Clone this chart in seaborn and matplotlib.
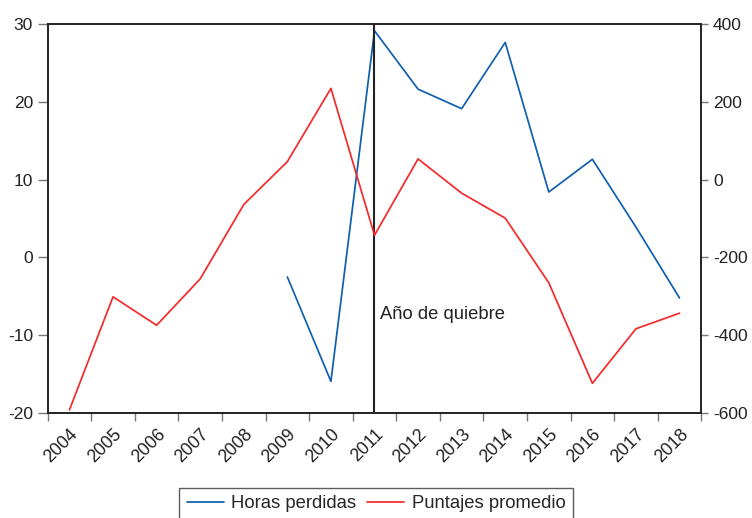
import matplotlib
matplotlib.use("Agg")
import matplotlib.pyplot as plt
from matplotlib.lines import Line2D
import numpy as np
import pandas as pd
import seaborn as sns

years = [2004, 2005, 2006, 2007, 2008, 2009, 2010, 2011, 2012, 2013, 2014, 2015, 2016, 2017, 2018]
horas_perdidas = [np.nan, np.nan, np.nan, np.nan, np.nan, -2.5, -15.9, 29.1, 21.6, 19.1, 27.6, 8.4, 12.6, 3.9, -5.2]
puntajes_promedio = [-591, -301, -374, -255, -64, 46, 234, -143, 53, -35, -99, -265, -523, -383, -343]
break_year = 2011
left_ticks = [-20, -10, 0, 10, 20, 30]
right_ticks = [-600, -400, -200, 0, 200, 400]

sns.set_style("white")
plt.rcParams['font.family'] = ['Liberation Sans', 'DejaVu Sans']
plt.rcParams['font.size'] = 12
plt.rcParams['axes.unicode_minus'] = False

pos = np.arange(len(years))
df = pd.DataFrame({"pos": pos, "horas": horas_perdidas, "puntajes": puntajes_promedio})

fig = plt.figure(figsize=(7.52, 5.18), dpi=100)
ax = fig.add_axes([0.0634, 0.2021, 0.8692, 0.7521])
ax2 = ax.twinx()

blue = "#0F5FB0"
red = "#F42A2A"
sns.lineplot(data=df.dropna(subset=["horas"]), x="pos", y="horas", ax=ax, color=blue, linewidth=1.25)
sns.lineplot(data=df, x="pos", y="puntajes", ax=ax2, color=red, linewidth=1.25)

bi = years.index(break_year)
ax.axvline(bi, color="#222222", linewidth=1.5, zorder=5)
ax.text(bi + 0.12, -7.3, "Año de quiebre", fontsize=13.2, color="#222222", ha="left", va="center")

ax.set_xlim(-0.5, len(years) - 0.5)
ax.set_ylim(-20, 30)
ax2.set_ylim(-600, 400)
ax.set_yticks(left_ticks)
ax2.set_yticks(right_ticks)
ax.set_xticks(np.arange(-0.5, len(years), 1.0))
ax.set_xticklabels([])
ax.set_xticks(pos, minor=True)
ax.set_xticklabels([str(y) for y in years], minor=True, rotation=45, ha="right",
                   rotation_mode="anchor", fontsize=12.8, color="#222222")
ax.tick_params(axis="x", which="minor", length=0, pad=9)
ax.tick_params(axis="x", which="major", direction="out", length=6, width=1, color="#777777", bottom=True)
ax.tick_params(axis="y", direction="out", length=7, width=1, color="#777777", left=True, labelsize=12.5, labelcolor="#222222")
ax2.tick_params(axis="y", direction="out", length=5, width=1, color="#777777", right=True, labelsize=12.5, labelcolor="#222222")
ax.set_xlabel("")
ax.set_ylabel("")
ax2.set_ylabel("")

for a in (ax, ax2):
    for s in a.spines.values():
        s.set_color("#222222")
        s.set_linewidth(1.2)
        s.set_visible(True)

handles = [Line2D([], [], color=blue, linewidth=1.25), Line2D([], [], color=red, linewidth=1.25)]
leg = fig.legend(handles, ["Horas perdidas", "Puntajes promedio"], loc="upper center",
                 bbox_to_anchor=(0.5, 0.058), ncol=2, frameon=True, fancybox=False,
                 edgecolor="#333333", fontsize=13.3, handlelength=2.0, columnspacing=0.6,
                 handletextpad=0.4, borderaxespad=0)
leg.get_frame().set_linewidth(1.0)

fig.savefig("out.png", dpi=100)
